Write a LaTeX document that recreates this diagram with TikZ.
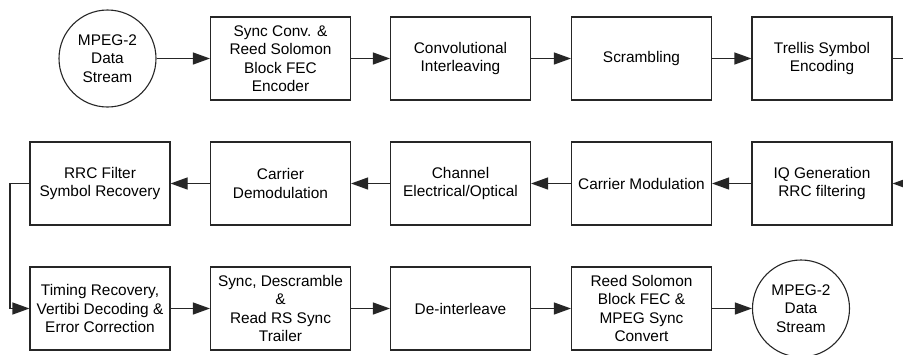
\documentclass[tikz,border=0pt]{standalone}
\usepackage{fontspec}
\setmainfont{Liberation Sans}
\usetikzlibrary{arrows.meta,positioning}
\begin{document}
\begin{tikzpicture}[x=1pt,y=-1pt,
  line width=1.1pt, draw=black!85,
  every node/.style={font=\fontsize{15.4}{18.5}\selectfont, align=center, inner sep=0pt},
  blk/.style={draw=black!85, line width=1.1pt, minimum width=140pt, minimum height=83pt},
  src/.style={draw=black!85, line width=1.1pt, circle, minimum size=97pt},
  arr/.style={-{Triangle[length=17pt,width=12pt]}, black!85, line width=1.1pt}]
\clip (0,0) rectangle (903,354);

% transmitter chain
\node[src] (srcin) at (107.5,58.5) {MPEG-2\\Data\\Stream};
\node[blk] (rsenc) at (280.5,58.5) {Sync Conv. \&\\Reed Solomon\\Block FEC\\Encoder};
\node[blk] (cilv)  at (460.5,58.5) {Convolutional\\Interleaving};
\node[blk] (scr)   at (641.5,58.5) {Scrambling};
\node[blk] (tcm)   at (822,58.5)   {Trellis Symbol\\Encoding};

% modulation, channel, demodulation
\node[blk] (rrc)   at (100,183.5)   {RRC Filter\\Symbol Recovery};
\node[blk] (demod) at (280.5,183.5) {Carrier\\Demodulation};
\node[blk] (chan)  at (460.5,183.5) {Channel\\Electrical/Optical};
\node[blk] (mod)   at (641.5,183.5) {Carrier Modulation};
\node[blk] (iq)    at (822,183.5)   {IQ Generation\\RRC filtering};

% receiver chain
\node[blk] (timing) at (100,308.5)   {Timing Recovery,\\Vertibi Decoding \&\\Error Correction};
\node[blk] (desc)   at (280.5,308.5) {Sync, Descramble\\\&\\Read RS Sync\\Trailer};
\node[blk] (deilv)  at (460.5,308.5) {De-interleave};
\node[blk] (rsdec)  at (641.5,308.5) {Reed Solomon\\Block FEC \&\\MPEG Sync\\Convert};
\node[src] (srcout) at (801,308.5)   {MPEG-2\\Data\\Stream};

% turning points of the wrap-around connectors
\coordinate (rturn) at (912,0);
\coordinate (lturn) at (10,0);

\draw[arr] (srcin) -- (rsenc);
\draw[arr] (rsenc) -- (cilv);
\draw[arr] (cilv) -- (scr);
\draw[arr] (scr) -- (tcm);
\draw[arr] (tcm.east) -- (tcm.east -| rturn) |- (iq.east);
\draw[arr] (iq) -- (mod);
\draw[arr] (mod) -- (chan);
\draw[arr] (chan) -- (demod);
\draw[arr] (demod) -- (rrc);
\draw[arr] (rrc.west) -- (rrc.west -| lturn) |- (timing.west);
\draw[arr] (timing) -- (desc);
\draw[arr] (desc) -- (deilv);
\draw[arr] (deilv) -- (rsdec);
\draw[arr] (rsdec) -- (srcout);
\end{tikzpicture}
\end{document}
